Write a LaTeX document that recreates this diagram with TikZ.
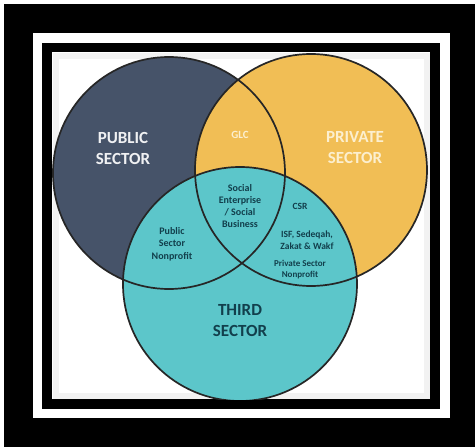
\documentclass[tikz,border=0pt]{standalone}
\usepackage{fontspec}
\setmainfont{Carlito}
\definecolor{publicblue}{HTML}{465369}
\definecolor{privateyellow}{HTML}{F1BE55}
\definecolor{thirdteal}{HTML}{5CC6CA}
\definecolor{inktext}{HTML}{123F4C}
\definecolor{paleyellow}{HTML}{FCEFCF}

\begin{document}
\begin{tikzpicture}[%
x=1pt, y=-1pt,
sector/.style={font=\bfseries\fontsize{17}{21}\selectfont, align=center},
part/.style={font=\bfseries\fontsize{9.5}{12}\selectfont, align=center, text=inktext},
ring/.style={draw=black!85, line width=1.7pt}
]
\useasboundingbox (0,0) rectangle (475,447);
% frame
\fill[black] (4,4) rectangle (475,447);
\fill[white] (33,33) rectangle (450,418);
\fill[black] (42,43) rectangle (440,409);
\fill[white] (52,52) rectangle (430,399);
\foreach \i in {1,...,6}
  \draw[black, opacity=0.05, line width=1pt] (52+\i,52+\i) rectangle (430-\i,399-\i);

\coordinate (pub) at (169,173);
\coordinate (priv) at (311,170);
\coordinate (third) at (240,284);

\begin{scope}
\clip (52,52) rectangle (430,399);
\fill[publicblue] (pub) circle[radius=116pt];
\fill[privateyellow] (priv) circle[radius=116pt];
\fill[thirdteal] (third) circle[radius=117pt];
\draw[ring] (pub) circle[radius=116pt];
\draw[ring] (priv) circle[radius=116pt];
\draw[ring] (third) circle[radius=117pt];
\end{scope}

\node[sector, text=white!92!publicblue] (0) at (123,148) {PUBLIC\\SECTOR};
\node[sector, text=paleyellow] (1) at (355,148) {PRIVATE\\SECTOR};
\node[sector, text=inktext] (2) at (240,321) {THIRD\\SECTOR};
\node[part, text=paleyellow, font=\bfseries\fontsize{11}{13}\selectfont] (3) at (240,135) {GLC};
\node[part, font=\bfseries\fontsize{10}{12.3}\selectfont] (4) at (240,206) {Social\\Enterprise\\/ Social\\Business};
\node[part, font=\bfseries\fontsize{10}{12.3}\selectfont] (5) at (172,244) {Public\\Sector\\Nonprofit};
\node[part] (6) at (300,206) {CSR};
\node[part] (7) at (307,240) {ISF, Sedeqah,\\Zakat \& Wakf};
\node[part, font=\bfseries\fontsize{9}{11}\selectfont] (8) at (300,270) {Private Sector\\Nonprofit};
\end{tikzpicture}
\end{document}
